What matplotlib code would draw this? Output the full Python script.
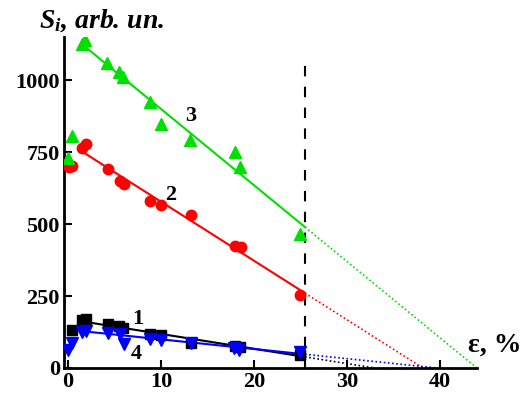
import numpy as np
import matplotlib
matplotlib.use("Agg")
import matplotlib.pyplot as plt

plt.rcParams['mathtext.fontset'] = 'custom'
plt.rcParams['mathtext.it'] = 'Liberation Serif:italic:bold'
plt.rcParams['mathtext.rm'] = 'Liberation Serif:bold'

# Series 1 (black squares)
x1 = [0.4, 1.5, 1.9, 4.3, 5.5, 5.9, 8.8, 10.0, 13.2, 18.0, 18.5, 25.0]
y1 = [131, 167, 171, 153, 146, 140, 118, 115, 88, 77, 73, 45]
# Series 2 (red circles)
x2 = [0.1, 0.4, 1.5, 1.9, 4.3, 5.6, 6.0, 8.8, 10.0, 13.2, 18.0, 18.6, 25.0]
y2 = [700, 703, 763, 777, 693, 650, 638, 582, 568, 533, 425, 419, 255]
# Series 3 (green triangles up)
x3 = [0.0, 0.4, 1.5, 1.8, 4.2, 5.5, 5.9, 8.8, 10.0, 13.1, 18.0, 18.5, 25.0]
y3 = [728, 805, 1126, 1140, 1060, 1028, 1011, 924, 847, 791, 750, 700, 464]
# Series 4 (blue triangles down)
x4 = [0.0, 0.4, 1.5, 1.9, 4.3, 5.6, 6.0, 8.8, 10.0, 13.2, 17.9, 18.4, 25.0]
y4 = [63, 87, 126, 129, 122, 119, 84, 101, 98, 88, 68, 62, 57]

# Linear fits: value at fit start, zero crossing
fit_start = 1.5
fit_start_values = [162, 752, 1125, 128]
fit_zero_x = [33.0, 38.2, 44.0, 39.7]
solid_end = 25.5
vline_x = 25.5
vline_top = 1060

series = [
    (x1, y1, 'black', 's', 6.5, '1', (7.5, 170)),
    (x2, y2, '#ff0000', 'o', 7.5, '2', (11.0, 600)),
    (x3, y3, '#00e000', '^', 8.5, '3', (13.2, 875)),
    (x4, y4, '#0000ff', 'v', 8.5, '4', (7.3, 50)),
]

fig = plt.figure(figsize=(5.24, 3.94), dpi=100)
ax = fig.add_axes([0.122, 0.066, 0.788, 0.84])

for (xs, ys, c, m, ms, lab, lpos), v0, xz in zip(series, fit_start_values, fit_zero_x):
    k = -v0 / (xz - fit_start)
    b = -k * xz
    xx = np.array([fit_start, solid_end])
    ax.plot(xx, k * xx + b, color=c, lw=1.5, zorder=2)
    xd = np.array([solid_end, xz])
    ax.plot(xd, k * xd + b, color=c, lw=1.2, ls=(0, (1, 1.5)), zorder=2)
    ax.plot(xs, ys, ls='none', marker=m, ms=ms, color=c, mec=c, zorder=3)
    ax.text(lpos[0], lpos[1], lab, fontsize=16, fontweight='bold',
            family='Liberation Serif', ha='center', va='center')

ax.plot([vline_x, vline_x], [0, vline_top], color='black', lw=1.5,
        ls=(0, (5, 5)), zorder=1)

ax.set_xlim(-0.45, 44.0)
ax.set_ylim(0, 1150)
ax.set_xticks([0, 10, 20, 30, 40])
ax.set_yticks([0, 250, 500, 750, 1000])
for s in ['top', 'right']:
    ax.spines[s].set_visible(False)
for s in ['left', 'bottom']:
    ax.spines[s].set_linewidth(2)
ax.tick_params(direction='in', length=6, width=1.5, labelsize=16, pad=3)
for lbl in ax.get_xticklabels() + ax.get_yticklabels():
    lbl.set_family('Liberation Serif')
    lbl.set_fontweight('bold')

fig.text(0.075, 0.948, r'$S_i$, arb. un.', fontsize=20, fontweight='bold',
         fontstyle='italic', family='Liberation Serif', ha='left', va='center')
fig.text(0.893, 0.125, 'ε, %', fontsize=20, fontweight='bold',
         family='Liberation Serif', ha='left', va='center')

fig.savefig('out.png', dpi=100)
